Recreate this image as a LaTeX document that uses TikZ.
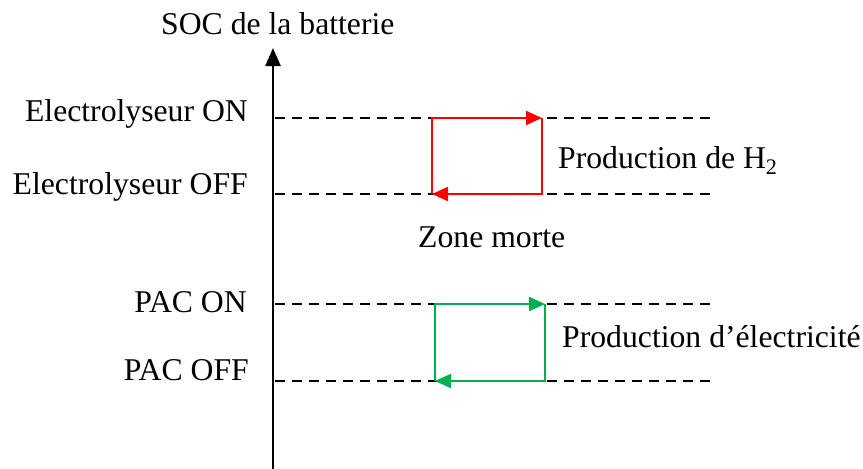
\documentclass[tikz,border=0pt]{standalone}
\usepackage{fontspec}
\setmainfont{Liberation Serif}
\usetikzlibrary{arrows.meta}
\definecolor{pgreen}{RGB}{0,176,80}
\tikzset{
  lbl/.style={inner sep=0pt, font=\fontsize{31.7}{38}\selectfont},
  guide/.style={line width=2pt, dash pattern=on 10pt off 7pt},
  axisline/.style={line width=2.4pt, -{Triangle[length=18pt,width=15pt]}},
  loopred/.style={draw=red, line width=2.2pt, -{Triangle[length=16pt,width=14pt]}, color=red},
  loopgreen/.style={draw=pgreen, line width=2.2pt, -{Triangle[length=16pt,width=14pt]}, color=pgreen}
}
\begin{document}
\begin{tikzpicture}[x=1pt,y=-1pt]
\useasboundingbox (0,0) rectangle (863,469);
% axis
\coordinate (ax0) at (273,469);
\coordinate (ax1) at (273,48);
\draw[axisline] (ax0) -- (ax1);
% guide lines
\coordinate (eOnL) at (275,118);  \coordinate (eOnR) at (715,118);
\coordinate (eOffL) at (275,194); \coordinate (eOffR) at (715,194);
\coordinate (pOnL) at (275,304);  \coordinate (pOnR) at (715,304);
\coordinate (pOffL) at (275,381); \coordinate (pOffR) at (715,381);
\draw[guide] (eOnL) -- (eOnR);
\draw[guide] (eOffL) -- (eOffR);
\draw[guide] (pOnL) -- (pOnR);
\draw[guide] (pOffL) -- (pOffR);
% red loop
\coordinate (r1) at (432,118); \coordinate (r2) at (542,118);
\coordinate (r3) at (542,194); \coordinate (r4) at (432,194);
\draw[loopred] (r4) -- (r1) -- (r2);
\draw[loopred] (r2) -- (r3) -- (r4);
% green loop
\coordinate (g1) at (435,304); \coordinate (g2) at (545,304);
\coordinate (g3) at (545,381); \coordinate (g4) at (435,381);
\draw[loopgreen] (g4) -- (g1) -- (g2);
\draw[loopgreen] (g2) -- (g3) -- (g4);
% labels
\node[lbl, anchor=base west] (soc) at (161,34) {SOC de la batterie};
\node[lbl, anchor=base east] (eon) at (248,121) {Electrolyseur ON};
\node[lbl, anchor=base east] (eoff) at (248,194) {Electrolyseur OFF};
\node[lbl, anchor=base west] (zm) at (418,247) {Zone morte};
\node[lbl, anchor=base east] (pon) at (247,312) {PAC ON};
\node[lbl, anchor=base east] (poff) at (249,380) {PAC OFF};
\node[lbl, anchor=base west] (ph2) at (558,168) {Production de H\textsubscript{2}};
\node[lbl, anchor=base west] (pel) at (562,347) {Production d’électricité};
\end{tikzpicture}
\end{document}
